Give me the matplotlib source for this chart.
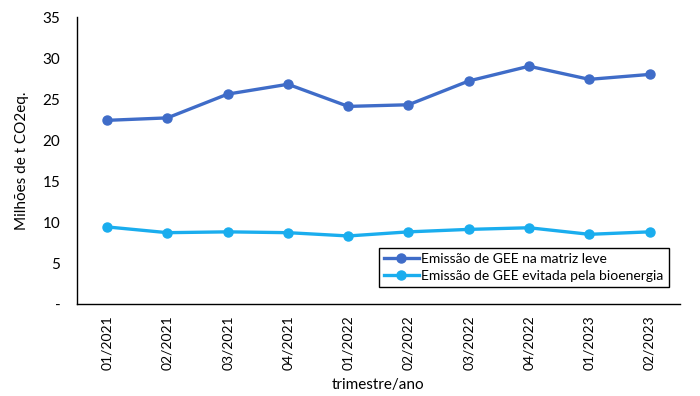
import numpy as np
import matplotlib.pyplot as plt
import matplotlib as mpl

mpl.rcParams['font.family'] = ['Lato', 'DejaVu Sans']

trimestres = ["01/2021", "02/2021", "03/2021", "04/2021", "01/2022",
              "02/2022", "03/2022", "04/2022", "01/2023", "02/2023"]
emissao_matriz = [22.4, 22.7, 25.6, 26.8, 24.1, 24.3, 27.2, 29.0, 27.4, 28.0]
emissao_evitada = [9.4, 8.7, 8.8, 8.7, 8.3, 8.8, 9.1, 9.3, 8.5, 8.8]
y_ticks = [0, 5, 10, 15, 20, 25, 30, 35]
y_tick_labels = ["-", "5", "10", "15", "20", "25", "30", "35"]

fig = plt.figure(figsize=(7.0, 3.96), dpi=100)
ax = fig.add_axes([0.11, 0.2323, 0.861, 0.7247])

x = np.arange(len(trimestres))
ax.plot(x, emissao_matriz, "-o", color="#3F6CC8", lw=2.4, ms=6.5,
        label="Emissão de GEE na matriz leve", zorder=3)
ax.plot(x, emissao_evitada, "-o", color="#1AADEE", lw=2.4, ms=6.5,
        label="Emissão de GEE evitada pela bioenergia", zorder=3)

ax.set_xlim(-0.5, len(trimestres) - 0.5)
ax.set_ylim(0, 35)
ax.set_xticks(x)
ax.set_xticklabels(trimestres, rotation=90, fontsize=10)
ax.set_yticks(y_ticks)
ax.set_yticklabels(y_tick_labels, fontsize=11)
ax.tick_params(length=0, pad=12)
ax.tick_params(axis='x', pad=8)

for s in ["top", "right"]:
    ax.spines[s].set_visible(False)
for s in ["left", "bottom"]:
    ax.spines[s].set_linewidth(1.0)
    ax.spines[s].set_color("black")

ax.set_ylabel("Milhões de t CO2eq.", fontsize=11, labelpad=10)
ax.set_xlabel("trimestre/ano", fontsize=11, labelpad=6)

leg = ax.legend(loc="lower right", bbox_to_anchor=(0.993, 0.035), fontsize=10,
                frameon=True, fancybox=False, framealpha=1, edgecolor="black",
                handlelength=2.5, borderpad=0.35, labelspacing=0.35, handletextpad=0.2)
leg.get_frame().set_linewidth(1.0)

fig.savefig("out.png", dpi=100)
